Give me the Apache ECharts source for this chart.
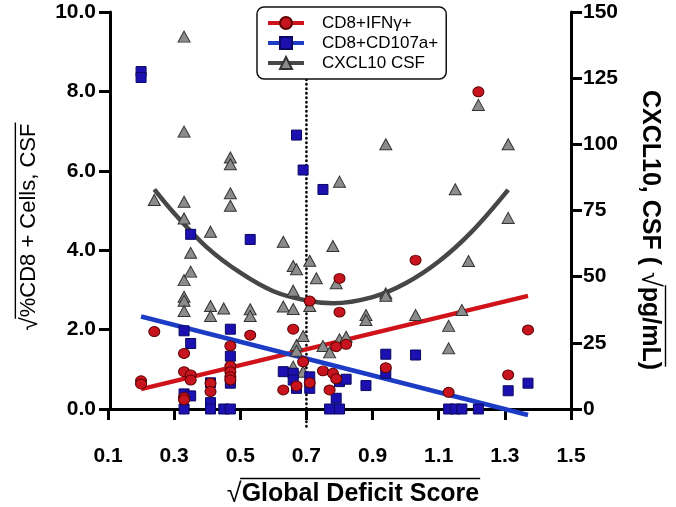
<!DOCTYPE html>
<html><head><meta charset="utf-8">
<script src="https://cdn.jsdelivr.net/npm/echarts@6/dist/echarts.min.js"></script>
<style>html,body{margin:0;padding:0;background:#fff}#c{width:676px;height:507px}</style>
</head><body><div id="c"></div>
<script>
// ---- data ----
const seriesNames = ['CD8+IFNγ+', 'CD8+CD107a+', 'CXCL10 CSF'];

const ifnX = [0.20,0.20,0.24,0.33,0.33,0.33,0.33,0.35,0.35,0.41,0.41,0.47,0.47,0.47,0.47,0.47,0.53,0.63,0.66,0.67,0.69,0.71,0.71,0.75,0.77,0.78,0.79,0.79,0.80,0.80,0.82,0.94,1.03,1.13,1.22,1.31,1.37];
const ifnY = [0.71,0.63,1.95,1.40,0.94,0.29,0.23,0.86,0.73,0.65,0.44,1.59,1.08,0.94,0.81,0.73,1.86,0.48,2.01,0.58,1.19,2.72,0.66,0.96,0.48,0.90,0.76,1.57,3.29,2.44,1.63,1.04,3.75,0.42,7.99,0.86,1.99];

const cd107X = [0.20,0.20,0.33,0.33,0.33,0.35,0.35,0.35,0.41,0.41,0.41,0.45,0.47,0.47,0.47,0.47,0.53,0.63,0.66,0.66,0.67,0.67,0.69,0.71,0.71,0.75,0.77,0.79,0.80,0.80,0.82,0.88,0.94,0.94,1.03,1.13,1.15,1.17,1.22,1.31,1.37];
const cd107Y = [8.50,8.35,1.97,0.38,0.00,4.40,1.65,0.33,0.66,0.16,0.00,0.00,2.01,1.33,0.65,0.00,4.27,0.94,0.90,0.73,6.90,0.52,6.02,0.81,0.52,5.53,0.00,0.27,0.69,0.00,0.75,0.59,1.38,0.90,1.36,0.00,0.00,0.00,0.00,0.46,0.65];

const cxclX = [0.24,0.33,0.33,0.33,0.33,0.33,0.33,0.33,0.33,0.35,0.35,0.41,0.41,0.41,0.45,0.47,0.47,0.47,0.47,0.53,0.53,0.63,0.63,0.66,0.66,0.66,0.66,0.67,0.67,0.67,0.69,0.69,0.71,0.71,0.73,0.75,0.77,0.78,0.79,0.80,0.80,0.82,0.88,0.88,0.94,0.94,0.94,1.03,1.13,1.13,1.15,1.17,1.19,1.22,1.31,1.31];
const cxclY = [79,140.7,104.8,78.3,72,48.7,42.4,40.9,37.0,59,51.9,67,38.9,35.1,38,95,92.5,81.5,76.8,37.7,35.1,63.2,38.7,54,44.7,37.8,16,52.8,24.2,22,27.6,14.1,56,38.9,49.4,23.8,21.4,61.6,47.5,85.9,26.3,27.3,35.5,33.6,100,43.7,42.8,35.5,31.4,22.9,83,37.4,55.9,114.9,100,72.2];

// fitted lines
const ifnFitX = [0.20, 1.37];
const ifnFitY = [0.50, 2.85];
const cd107FitX = [0.20, 1.37];
const cd107FitY = [2.33, -0.15];
const cxclFitX = [0.24,0.30,0.40,0.50,0.60,0.70,0.78,0.90,1.00,1.10,1.20,1.31];
const cxclFitY = [83,74,61,51.5,44.5,41,40,42.3,47.5,55.7,67,82.8];

const refLineX = 0.7;
const refLineY = [10, -0.5];

const leftTicks = [0, 2, 4, 6, 8, 10];
const rightTicks = [0, 25, 50, 75, 100, 125, 150];
const xTicks = [0.1, 0.3, 0.5, 0.7, 0.9, 1.1, 1.3, 1.5];

// ---- build ----
const zip = (xs, ys) => xs.map((x, i) => [x, ys[i]]);
const FONT = "'Liberation Sans', Arial, sans-serif";

const chart = echarts.init(document.getElementById('c'), null, {renderer: 'canvas'});

function measure(text, font) {
  const ctx = document.createElement('canvas').getContext('2d');
  ctx.font = font;
  return ctx.measureText(text).width;
}
function radicalTitle(cx, cy, rot, pre, body, post, size, weight, radSize, lineDy) {
  const fBody = weight + ' ' + size + 'px ' + FONT;
  const fRad = 'normal ' + radSize + 'px ' + FONT;
  const wPre = pre ? measure(pre, fBody) : 0;
  const wRad = measure('√', fRad);
  const wBody = measure(body, fBody);
  const wPost = post ? measure(post, fBody) : 0;
  const W = wPre + wRad + wBody + wPost;
  let x = -W / 2;
  const ch = [];
  if (pre) { ch.push({type: 'text', x: x, y: 0, style: {text: pre, font: fBody, fill: '#000', align: 'left', verticalAlign: 'middle'}}); x += wPre; }
  ch.push({type: 'text', x: x, y: 1, style: {text: '√', font: fRad, fill: '#000', align: 'left', verticalAlign: 'middle'}});
  x += wRad;
  const ly = -size * lineDy;
  ch.push({type: 'line', shape: {x1: x - 1.5, y1: ly, x2: x + wBody + (post ? wPost * 0.6 : 1), y2: ly}, style: {stroke: '#000', lineWidth: 1.4}});
  ch.push({type: 'text', x: x, y: 0, style: {text: body, font: fBody, fill: '#000', align: 'left', verticalAlign: 'middle'}});
  x += wBody;
  if (post) ch.push({type: 'text', x: x, y: 0, style: {text: post, font: fBody, fill: '#000', align: 'left', verticalAlign: 'middle'}});
  return {type: 'group', x: cx, y: cy, rotation: rot, children: ch};
}

const axisCommon = {
  axisLine: {show: true, lineStyle: {color: '#000', width: 3}},
  axisTick: {show: true, length: 11, lineStyle: {color: '#000', width: 3}},
  splitLine: {show: false},
  axisLabel: {color: '#000', fontSize: 21, fontWeight: 'bold', fontFamily: FONT}
};

const option = {
  animation: false,
  grid: {left: 108, right: 105, top: 12, bottom: 98, containLabel: false},
  legend: {
    orient: 'vertical', left: 257, top: 7,
    data: seriesNames,
    itemWidth: 36, itemHeight: 15, itemGap: 0,
    padding: [6, 8, 6, 9],
    backgroundColor: '#fff', borderColor: '#111', borderWidth: 1.5, borderRadius: 7,
    selectedMode: false,
    lineStyle: {width: 4},
    textStyle: {fontSize: 17, fontFamily: FONT, color: '#000', lineHeight: 20, padding: [0, 0, 0, 13]}
  },
  xAxis: Object.assign({}, axisCommon, {
    type: 'value', min: xTicks[0], max: xTicks[xTicks.length - 1], interval: 0.2, offset: 20,
    axisLabel: Object.assign({}, axisCommon.axisLabel, {margin: 17, formatter: v => v.toFixed(1)})
  }),
  yAxis: [
    Object.assign({}, axisCommon, {
      type: 'value', position: 'left', min: leftTicks[0], max: leftTicks[leftTicks.length - 1], interval: 2, offset: -2,
      axisLabel: Object.assign({}, axisCommon.axisLabel, {margin: 14, formatter: v => v.toFixed(1)})
    }),
    Object.assign({}, axisCommon, {
      type: 'value', position: 'right', min: rightTicks[0], max: rightTicks[rightTicks.length - 1], interval: 25,
      axisLabel: Object.assign({}, axisCommon.axisLabel, {margin: 12})
    })
  ],
  series: [
    {name: seriesNames[0], type: 'line', data: zip(ifnFitX, ifnFitY), symbol: 'circle', symbolSize: [11, 10], showSymbol: false, clip: false, z: 2,
     lineStyle: {color: '#d0131a', width: 4.5}, itemStyle: {color: '#c8141e', borderColor: '#5a0000', borderWidth: 1}},
    {name: seriesNames[1], type: 'line', data: zip(cd107FitX, cd107FitY), symbol: 'rect', symbolSize: 10, showSymbol: false, clip: false, z: 2,
     lineStyle: {color: '#1d3cc6', width: 4.5}, itemStyle: {color: '#1c10b0', borderColor: '#0a0860', borderWidth: 1}},
    {name: seriesNames[2], type: 'line', yAxisIndex: 1, data: zip(cxclFitX, cxclFitY), smooth: 0.35, symbol: 'triangle', symbolSize: [12, 11], showSymbol: false, clip: false, z: 2,
     lineStyle: {color: '#474747', width: 4.5}, itemStyle: {color: '#8c8c8c', borderColor: '#333', borderWidth: 1}},
    {name: 'ref', type: 'line', data: refLineY.map(y => [refLineX, y]), symbol: 'none', clip: false, z: 1, silent: true,
     lineStyle: {color: '#000', width: 2.6, type: [0.5, 4], cap: 'round'}},
    {name: seriesNames[2], type: 'scatter', yAxisIndex: 1, data: zip(cxclX, cxclY), symbol: 'triangle', symbolSize: [12, 11], z: 3,
     itemStyle: {color: '#8c8c8c', borderColor: '#333', borderWidth: 1, opacity: 1}},
    {name: seriesNames[1], type: 'scatter', data: zip(cd107X, cd107Y), symbol: 'rect', symbolSize: 10, z: 4, clip: false,
     itemStyle: {color: '#1c10b0', borderColor: '#0a0860', borderWidth: 1, opacity: 1}},
    {name: seriesNames[0], type: 'scatter', data: zip(ifnX, ifnY), symbol: 'circle', symbolSize: [11, 10], z: 5, clip: false,
     itemStyle: {color: '#c8141e', borderColor: '#5a0000', borderWidth: 1, opacity: 1}}
  ],
  graphic: [
    radicalTitle(353, 494, 0, '', 'Global Deficit Score', '', 25, 'bold', 27, 0.62),
    radicalTitle(29, 227, Math.PI / 2, '', '%CD8 + Cells, CSF', '', 22, 'normal', 24, 0.62),
    radicalTitle(650, 230, -Math.PI / 2, 'CXCL10, CSF ( ', 'pg/mL', ')', 25, 'bold', 27, 0.62)
  ]
};
chart.setOption(option);
</script>
</body></html>
